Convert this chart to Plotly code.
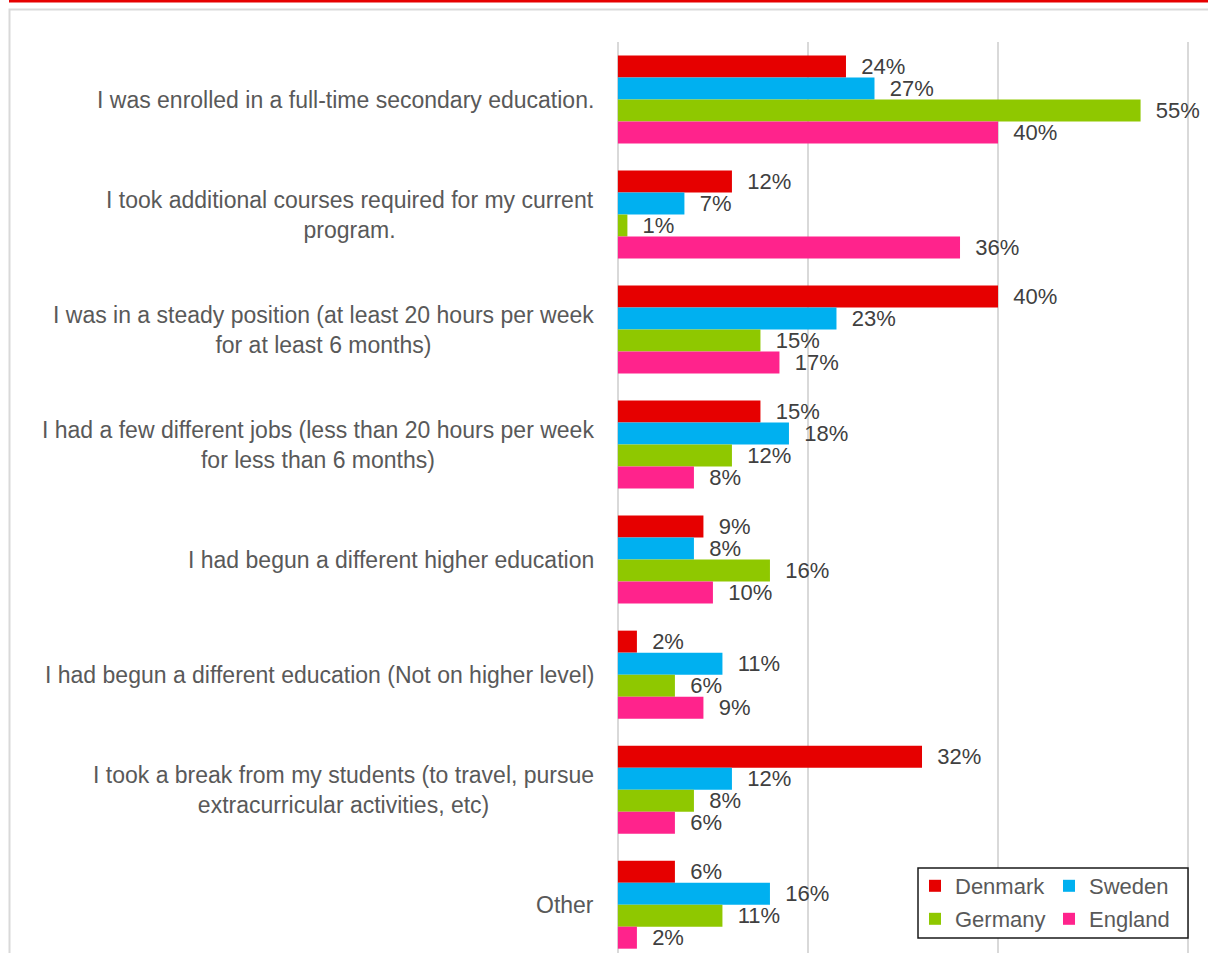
import plotly.graph_objects as go

# ---- data -------------------------------------------------------------
categories = [
    "I was enrolled in a full-time secondary education.",
    "I took additional courses required for my current<br>program.",
    "I was in a steady position (at least 20 hours per week<br>for at least 6 months)",
    "I had a few different jobs (less than 20 hours per week<br>for less than 6 months)",
    "I had begun a different higher education",
    "I had begun a different education (Not on higher level)",
    "I took a break from my students (to travel, pursue<br>extracurricular activities, etc)",
    "Other",
]
denmark = [24, 12, 40, 15, 9, 2, 32, 6]
sweden = [27, 7, 23, 18, 8, 11, 12, 16]
germany = [55, 1, 15, 12, 16, 6, 8, 11]
england = [40, 36, 17, 8, 10, 9, 6, 2]

series = [
    ("Denmark", denmark, "#E60000", "legend"),
    ("Sweden", sweden, "#00B0F0", "legend"),
    ("Germany", germany, "#8FC800", "legend2"),
    ("England", england, "#FF238C", "legend2"),
]

# ---- geometry ---------------------------------------------------------
W, H = 1208, 953
X_PAD = 0.2                             # small extra range so edge gridlines show
PL, PR, PT, PB = 616, 1190, 42, 953     # plot area edges in pixels
FONT = "Liberation Sans, Arial, sans-serif"


def px_x(px):
    return (px - PL) / (PR - PL)


def px_y(py):
    return (PB - py) / (PB - PT)


fig = go.Figure()
for name, vals, color, leg in series:
    fig.add_trace(go.Bar(
        name=name,
        y=categories,
        x=vals,
        orientation="h",
        marker=dict(color=color, line=dict(width=0)),
        texttemplate="\u00a0\u00a0%{x}%",
        textposition="outside",
        textfont=dict(family=FONT, size=22, color="#404040"),
        constraintext="none",
        cliponaxis=False,
        legend=leg,
        hoverinfo="skip",
    ))

# category labels, centred line by line, right edge next to the axis
for cat in categories:
    fig.add_annotation(
        x=0, xref="x", y=cat, yref="y",
        text=cat, showarrow=False,
        xanchor="right", yanchor="middle", align="center",
        xshift=-22,
        font=dict(family=FONT, size=23, color="#595959"),
    )

shapes = [
    # red rule along the top of the page
    dict(type="rect", xref="paper", yref="paper",
         x0=px_x(9), x1=px_x(1215), y0=px_y(2.5), y1=px_y(-2),
         line=dict(width=0), fillcolor="#E60000", layer="above"),
    # light grey chart frame
    dict(type="rect", xref="paper", yref="paper",
         x0=px_x(9.5), x1=px_x(1230), y0=px_y(975), y1=px_y(9.5),
         line=dict(color="#D9D9D9", width=2), fillcolor="rgba(0,0,0,0)",
         layer="below"),
    # legend box
    dict(type="rect", xref="paper", yref="paper",
         x0=px_x(918), x1=px_x(1188), y0=px_y(938), y1=px_y(868),
         line=dict(color="#1A1A1A", width=1.5), fillcolor="white",
         layer="above"),
]

legend_common = dict(
    orientation="h", xanchor="left", yanchor="middle",
    bgcolor="rgba(0,0,0,0)", borderwidth=0,
    font=dict(family=FONT, size=22, color="#595959"),
    entrywidth=89, entrywidthmode="pixels",
    itemclick=False, itemdoubleclick=False,
)

fig.update_layout(
    width=W, height=H,
    margin=dict(l=PL, r=W - PR, t=PT, b=H - PB, pad=0),
    paper_bgcolor="white", plot_bgcolor="white",
    barmode="group", bargap=0.235, bargroupgap=0,
    font=dict(family=FONT, size=22, color="#595959"),
    showlegend=True,
    legend=dict(x=px_x(915), y=px_y(886), **legend_common),
    legend2=dict(x=px_x(915), y=px_y(919), **legend_common),
    xaxis=dict(range=[-X_PAD, 60 + X_PAD], dtick=20, tick0=0, showgrid=True,
               gridcolor="#D9D9D9", gridwidth=2, zeroline=False,
               showticklabels=False, ticks="", showline=False,
               fixedrange=True),
    yaxis=dict(type="category", categoryorder="array",
               categoryarray=categories, range=[7.42, -0.5],
               showgrid=False, zeroline=False, showticklabels=False,
               ticks="", showline=False, fixedrange=True),
    shapes=shapes,
)

fig.write_html("out.html", config={"displayModeBar": False})
